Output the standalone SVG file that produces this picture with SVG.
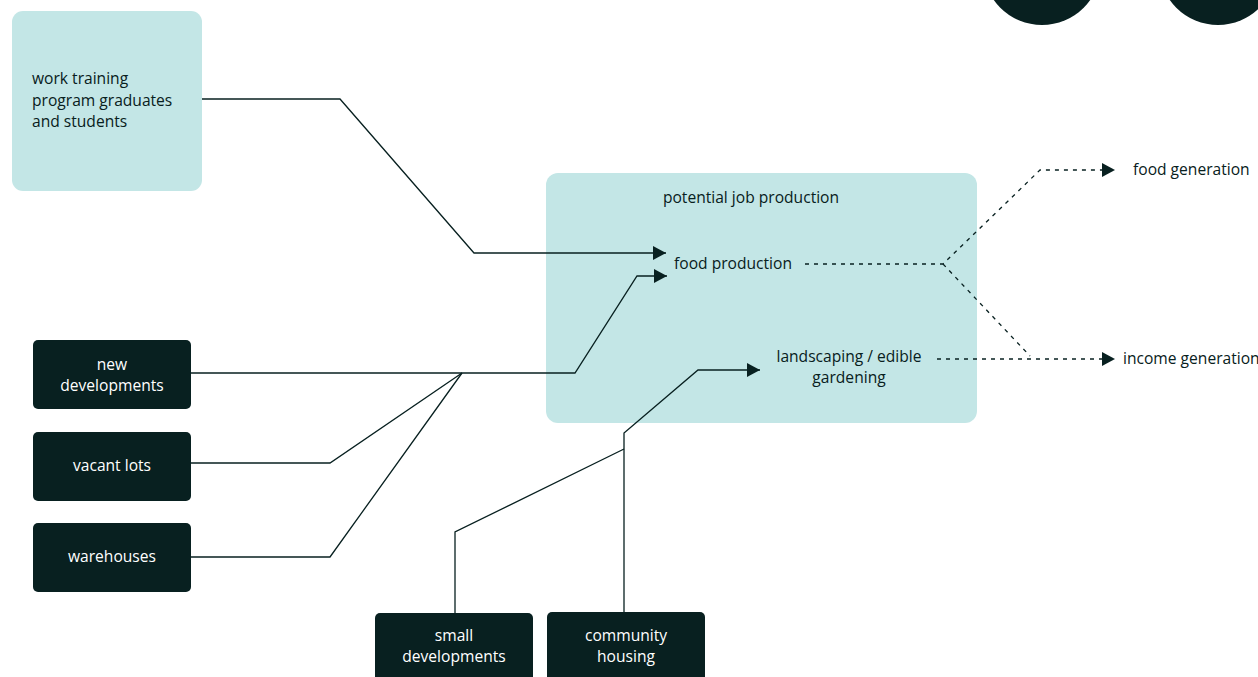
<svg xmlns="http://www.w3.org/2000/svg" width="1258" height="677" viewBox="0 0 1258 677">
<style>
.light{fill:#c3e6e6}
.dark{fill:#082020}
.t{font-family:"Open Sans","Liberation Sans",sans-serif;font-size:15.6px;fill:#082020}
.w{font-family:"Open Sans","Liberation Sans",sans-serif;font-size:15.6px;fill:#ffffff;text-anchor:middle}
.ln{fill:none;stroke:#082020;stroke-width:1.3}
.ds{fill:none;stroke:#082020;stroke-width:1.3;stroke-dasharray:4 5}
</style>
<defs>
<marker id="ah" viewBox="0 0 13 14" refX="13" refY="7" markerWidth="13" markerHeight="14" markerUnits="userSpaceOnUse" orient="auto">
<path d="M0,0 L13,7 L0,14 Z" fill="#082020"/>
</marker>
</defs>
<g id="circles">
<circle cx="1042" cy="-34" r="59" fill="#082020"/>
<circle cx="1218" cy="-34" r="59" fill="#082020"/>
</g>
<g id="work-training">
<rect class="light" x="12" y="11" width="190" height="180" rx="11"/>
<text class="t" x="32" y="84">work training</text>
<text class="t" x="32" y="106">program graduates</text>
<text class="t" x="32" y="127">and students</text>
</g>
<g id="job-production">
<rect class="light" x="546" y="173" width="431" height="250" rx="12"/>
<text class="t" x="751" y="203" text-anchor="middle">potential job production</text>
</g>
<g id="food-production">
<text class="t" x="733" y="269" text-anchor="middle">food production</text>
</g>
<g id="landscaping">
<text class="t" x="849" y="362" text-anchor="middle">landscaping / edible</text>
<text class="t" x="849" y="383" text-anchor="middle">gardening</text>
</g>
<g id="food-generation">
<text class="t" x="1133" y="175">food generation</text>
</g>
<g id="income-generation">
<text class="t" x="1123" y="364">income generation</text>
</g>
<g id="new-developments">
<rect class="dark" x="33" y="340" width="158" height="69" rx="5"/>
<text class="w" x="112" y="370">new</text>
<text class="w" x="112" y="391">developments</text>
</g>
<g id="vacant-lots">
<rect class="dark" x="33" y="432" width="158" height="69" rx="5"/>
<text class="w" x="112" y="471">vacant lots</text>
</g>
<g id="warehouses">
<rect class="dark" x="33" y="523" width="158" height="69" rx="5"/>
<text class="w" x="112" y="562">warehouses</text>
</g>
<g id="small-developments">
<rect class="dark" x="375" y="613" width="158" height="80" rx="5"/>
<text class="w" x="454" y="641">small</text>
<text class="w" x="454" y="662">developments</text>
</g>
<g id="community-housing">
<rect class="dark" x="547" y="612" width="158" height="80" rx="5"/>
<text class="w" x="626" y="641">community</text>
<text class="w" x="626" y="662">housing</text>
</g>
<g id="connectors">
<polyline class="ln" points="202,99 340,99 474,253 666,253" marker-end="url(#ah)"/>
<polyline class="ln" points="191,373 575,373 637,276 667,276" marker-end="url(#ah)"/>
<polyline class="ln" points="191,463 330,463 462,373"/>
<polyline class="ln" points="191,557 330,557 462,373"/>
<polyline class="ln" points="624,612 624,433 698,370 760,370" marker-end="url(#ah)"/>
<polyline class="ln" points="455,613 455,532 624,449"/>
<polyline class="ds" points="805,264 943,264 1040,170 1115,170" marker-end="url(#ah)"/>
<polyline class="ds" points="943,264 1030,356"/>
<polyline class="ds" points="937,359 1115,359" marker-end="url(#ah)"/>
</g>
</svg>
